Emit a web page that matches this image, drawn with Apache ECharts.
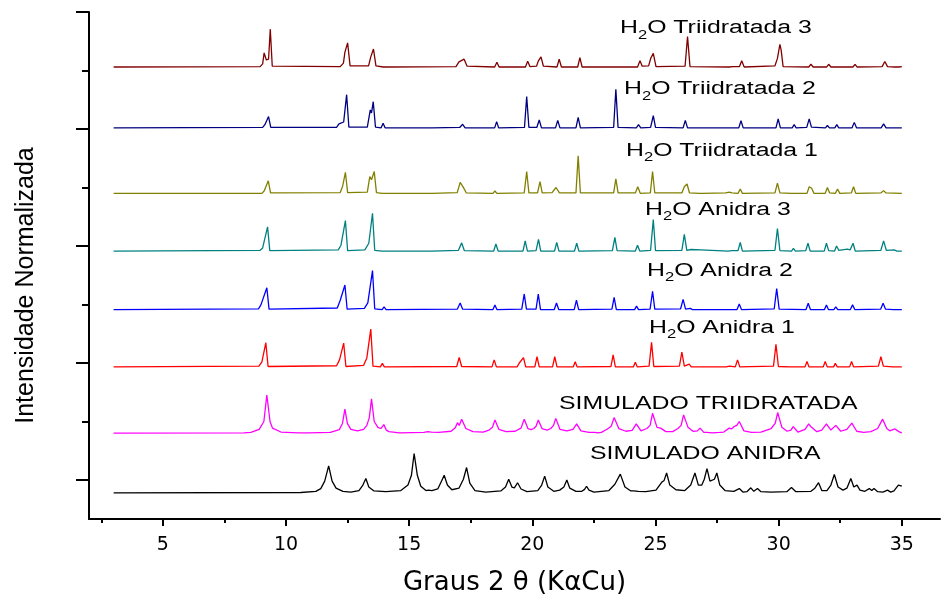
<!DOCTYPE html>
<html>
<head>
<meta charset="utf-8">
<title>DRX - anidra / triidratada</title>
<script src="https://cdn.jsdelivr.net/npm/echarts@6/dist/echarts.min.js"></script>
<style>
  html, body { margin: 0; padding: 0; background: #fff; }
  #chart { width: 941px; height: 599px; }
</style>
</head>
<body>
<div id="chart"></div>
<script>
// eixos
const xTicks = [5, 10, 15, 20, 25, 30, 35]
const xMinorTicks = [2.5, 7.5, 12.5, 17.5, 22.5, 27.5, 32.5]
const yTicks = [1, 4, 7, 10, 13]
const yMinorTicks = [2.5, 5.5, 8.5, 11.5]

// linha de base de cada difratograma (empilhados)
const baselines = [11.59, 10.03, 8.35, 6.87, 5.37, 3.90, 2.20, 0.67]

// [2θ, intensidade acima da linha de base]
const tri3 = [[3,0],[8.95,0.01],[9.05,0.08],[9.11,0.36],[9.2,0.18],[9.29,0.2],[9.36,0.97],[9.44,0.02],
  [12.2,0.01],[12.33,0.1],[12.39,0.38],[12.5,0.62],[12.6,0.03],
  [13.35,0.03],[13.44,0.26],[13.55,0.46],[13.65,0.03],[13.95,0],[14.01,0.05],[14.08,0],
  [16.9,0.01],[17.02,0.13],[17.1,0.14],[17.23,0.2],[17.35,0.02],
  [18.47,0],[18.56,0.12],[18.65,0],
  [19.72,0],[19.81,0.15],[19.9,0.01],[20.17,0.02],[20.24,0.15],[20.3,0.12],[20.35,0.26],[20.45,0.02],
  [21.0,0],[21.09,0.2],[21.18,0],[21.84,0],[21.93,0.24],[22.02,0],
  [23.35,0],[23.43,0.04],[23.52,0],
  [24.27,0],[24.37,0.16],[24.46,0.02],[24.72,0.03],[24.81,0.23],[24.91,0.35],[25.02,0.01],
  [26.2,0.02],[26.3,0.78],[26.4,0.01],
  [27.98,0],[28.06,0.03],[28.15,0.01],[28.41,0.01],[28.5,0.16],[28.6,0],
  [29.85,0.03],[29.95,0.22],[30.05,0.58],[30.1,0.44],[30.18,0.01],
  [31.22,0],[31.31,0.07],[31.4,0],[31.95,0],[32.03,0.07],[32.12,0],[32.35,0],[32.43,0.03],[32.5,0],
  [33.02,0],[33.1,0.07],[33.18,0],[34.2,0.01],[34.31,0.14],[34.42,0.01],[34.72,0],[34.8,0.03],[34.88,0],[35,0.01]]

const tri2 = [[3,0],[9.05,0.01],[9.14,0.08],[9.29,0.29],[9.38,0.01],
  [12.05,0.01],[12.15,0.1],[12.34,0.15],[12.46,0.85],[12.55,0.02],
  [13.3,0.02],[13.42,0.46],[13.47,0.38],[13.54,0.67],[13.63,0.02],[13.86,0],[13.94,0.12],[14.02,0],
  [15.77,0],[15.85,0.05],[15.93,0],
  [17.05,0.01],[17.17,0.09],[17.27,0],
  [18.47,0],[18.55,0.16],[18.63,0],
  [19.68,0.01],[19.77,0.8],[19.86,0.01],
  [20.18,0.01],[20.28,0.2],[20.37,0],
  [20.94,0],[21.03,0.19],[21.12,0],
  [21.77,0],[21.86,0.27],[21.95,0],
  [23.3,0.01],[23.39,0.99],[23.48,0.01],
  [24.22,0],[24.31,0.08],[24.4,0],[24.8,0.01],[24.91,0.31],[25.0,0.01],
  [26.12,0],[26.21,0.19],[26.3,0],[26.76,0],[26.84,0.02],[26.92,0],
  [28.38,0],[28.47,0.18],[28.56,0],
  [29.89,0],[29.98,0.23],[30.07,0],[30.55,0],[30.63,0.08],[30.71,0],
  [31.14,0.01],[31.24,0.23],[31.33,0.02],[31.9,0],[31.98,0.06],[32.06,0],[32.28,0],[32.36,0.08],[32.44,0],
  [32.98,0],[33.07,0.14],[33.16,0],[34.16,0],[34.26,0.1],[34.36,0],[34.7,0],[34.76,0.03],[34.84,0],[35,0]]

const tri1 = [[3,0],[9.02,0],[9.11,0.06],[9.28,0.32],[9.37,0.01],
  [12.2,0.02],[12.3,0.19],[12.41,0.54],[12.5,0.02],
  [13.3,0.03],[13.4,0.43],[13.47,0.35],[13.58,0.56],[13.67,0.02],[13.9,0],[13.98,0.04],[14.06,0],
  [15.8,0],[15.86,0.01],[15.92,0],
  [16.95,0.02],[17.07,0.28],[17.21,0.14],[17.32,0.01],
  [18.4,0],[18.48,0.06],[18.56,0],
  [19.67,0.01],[19.77,0.56],[19.86,0.01],
  [20.21,0.01],[20.31,0.3],[20.4,0.01],
  [20.8,0.02],[20.96,0.15],[21.1,0.01],
  [21.77,0.01],[21.86,0.96],[21.95,0.01],
  [23.3,0.01],[23.39,0.37],[23.48,0.01],
  [24.18,0.01],[24.28,0.17],[24.38,0],
  [24.79,0.01],[24.88,0.56],[24.97,0.01],
  [26.07,0.01],[26.17,0.17],[26.22,0.14],[26.28,0.24],[26.38,0.01],
  [26.78,0],[26.84,0.02],[26.9,0],
  [27.85,0.01],[27.93,0.06],[28.0,0.03],[28.1,0.01],[28.35,0],[28.44,0.11],[28.53,0],
  [29.85,0.01],[29.95,0.26],[30.05,0.01],
  [30.52,0],[30.6,0.05],[30.68,0],
  [31.15,0],[31.24,0.17],[31.29,0.12],[31.34,0.13],[31.43,0],
  [31.89,0],[31.98,0.15],[32.07,0.01],[32.3,0],[32.39,0.11],[32.48,0],
  [32.95,0.01],[33.04,0.17],[33.13,0],
  [34.15,0.01],[34.26,0.07],[34.36,0.01],[35,0]]

const anidra3 = [[3,0],[8.95,0.02],[9.05,0.08],[9.25,0.62],[9.34,0.01],
  [12.12,0.03],[12.23,0.15],[12.41,0.78],[12.5,0.01],
  [13.2,0.03],[13.36,0.2],[13.51,0.97],[13.6,0.02],[13.9,0],[13.98,0.04],[14.06,0],
  [15.8,0],[15.85,0.02],[15.9,0],
  [17.0,0.02],[17.13,0.21],[17.24,0.01],
  [18.43,0],[18.52,0.18],[18.61,0],
  [19.62,0],[19.71,0.26],[19.8,0],
  [20.15,0.01],[20.25,0.3],[20.34,0],
  [20.9,0],[20.99,0.22],[21.08,0],
  [21.71,0],[21.8,0.2],[21.89,0],
  [23.25,0.01],[23.35,0.35],[23.44,0.01],
  [24.18,0],[24.27,0.15],[24.36,0],
  [24.8,0.02],[24.91,0.81],[25.0,0.01],
  [26.07,0.02],[26.17,0.43],[26.27,0.02],[26.44,0.04],[26.52,0.01],[26.84,0.03],[26.9,0],
  [27.95,0],[28.03,0.04],[28.1,0.01],[28.35,0.01],[28.44,0.22],[28.53,0],
  [29.85,0.02],[29.95,0.58],[30.05,0.01],
  [30.52,0],[30.6,0.07],[30.68,0],
  [31.1,0.01],[31.19,0.2],[31.28,0],
  [31.85,0],[31.94,0.2],[32.03,0.01],[32.27,0],[32.35,0.13],[32.44,0.02],[32.79,0.05],[32.9,0.03],
  [33.02,0.2],[33.11,0],
  [34.15,0.02],[34.26,0.26],[34.37,0.02],[34.69,0.03],[34.8,0],[35,0]]

const anidra2 = [[3,0],[8.88,0.02],[8.98,0.12],[9.22,0.56],[9.31,0.01],
  [12.08,0.04],[12.2,0.24],[12.39,0.63],[12.48,0.01],
  [13.18,0.03],[13.32,0.17],[13.51,1.0],[13.6,0.02],[13.9,0],[13.98,0.07],[14.06,0],
  [16.95,0.01],[17.07,0.17],[17.17,0.01],
  [18.4,0],[18.48,0.12],[18.56,0],
  [19.57,0.01],[19.67,0.4],[19.76,0.01],
  [20.15,0.01],[20.24,0.4],[20.33,0],
  [20.89,0],[20.98,0.17],[21.07,0],
  [21.7,0],[21.79,0.24],[21.88,0],
  [23.23,0.01],[23.32,0.31],[23.41,0],
  [24.15,0],[24.23,0.09],[24.31,0],
  [24.78,0.01],[24.88,0.47],[24.97,0.01],
  [26.02,0.02],[26.12,0.26],[26.22,0.01],[26.41,0.03],[26.5,0],[26.73,0],[26.81,0.05],[26.89,0],
  [28.31,0],[28.4,0.14],[28.49,0],
  [29.82,0.02],[29.92,0.54],[30.02,0.01],
  [31.11,0],[31.2,0.16],[31.29,0],
  [31.86,0],[31.94,0.12],[32.02,0],[32.24,0],[32.32,0.07],[32.4,0],
  [32.91,0],[33.0,0.12],[33.09,0],
  [34.14,0.01],[34.24,0.16],[34.34,0.01],[34.66,0],[34.72,0.03],[34.8,0],[35,0]]

const anidra1 = [[3,0],[8.9,0.02],[9.02,0.13],[9.18,0.62],[9.27,0.01],
  [12.05,0.03],[12.17,0.18],[12.34,0.61],[12.43,0.01],
  [13.15,0.04],[13.28,0.23],[13.44,0.97],[13.53,0.02],[13.83,0],[13.91,0.09],[13.99,0],
  [16.93,0.01],[17.03,0.24],[17.13,0.01],
  [18.36,0],[18.45,0.18],[18.54,0],
  [19.38,0],[19.47,0.1],[19.55,0.08],[19.64,0.24],[19.73,0],
  [20.1,0],[20.19,0.26],[20.28,0],
  [20.82,0],[20.91,0.26],[21.0,0],
  [21.66,0],[21.74,0.13],[21.82,0],
  [23.19,0.01],[23.28,0.31],[23.37,0],
  [24.1,0],[24.18,0.12],[24.26,0],
  [24.74,0.02],[24.84,0.63],[24.93,0.01],
  [25.97,0.02],[26.07,0.38],[26.17,0.02],[26.37,0.07],[26.45,0],[26.72,0],[26.78,0.03],[26.85,0],
  [27.87,0],[27.93,0.05],[28.0,0.02],[28.24,0],[28.33,0.18],[28.42,0],
  [29.79,0.02],[29.89,0.58],[29.99,0.01],
  [30.47,0],[30.54,0.05],[30.61,0],
  [31.07,0],[31.15,0.14],[31.23,0],
  [31.81,0],[31.89,0.14],[31.97,0],[32.23,0],[32.3,0.09],[32.38,0],
  [32.88,0],[32.96,0.14],[33.04,0],
  [34.05,0.02],[34.15,0.26],[34.25,0.02],[34.62,0],[34.69,0.03],[34.76,0],[35,0]]

const simTri = [[3,0],[8.3,0.01],[8.57,0.02],[8.91,0.1],[9.1,0.3],[9.22,0.98],[9.35,0.3],[9.45,0.13],[9.79,0.03],[10.5,0.01],
  [10.78,0.01],[10.85,0.04],[10.92,0.01],
  [11.8,0.02],[12.16,0.09],[12.29,0.25],[12.39,0.62],[12.49,0.25],[12.63,0.1],[12.9,0.06],
  [13.15,0.1],[13.28,0.2],[13.38,0.4],[13.47,0.88],[13.58,0.3],[13.73,0.15],[13.85,0.12],[13.97,0.22],[14.07,0.08],[14.18,0.04],[14.6,0.01],
  [15.6,0.02],[15.75,0.04],[15.81,0.07],[15.9,0.03],[16.2,0.02],
  [16.7,0.05],[16.87,0.14],[16.96,0.27],[17.03,0.2],[17.13,0.36],[17.3,0.12],[17.59,0.04],
  [18.0,0.03],[18.24,0.08],[18.38,0.15],[18.48,0.34],[18.64,0.1],[18.93,0.04],
  [19.3,0.05],[19.54,0.13],[19.59,0.15],[19.67,0.36],[19.82,0.12],[19.95,0.09],
  [20.06,0.12],[20.15,0.18],[20.24,0.34],[20.39,0.12],[20.6,0.08],
  [20.75,0.12],[20.86,0.2],[20.95,0.38],[21.12,0.1],[21.4,0.06],
  [21.65,0.1],[21.8,0.24],[21.97,0.06],[22.3,0.02],[22.52,0.02],[22.58,0.04],[22.66,0.01],[22.8,0.02],
  [23.03,0.1],[23.2,0.18],[23.32,0.4],[23.51,0.12],[23.8,0.05],[24.05,0.07],
  [24.22,0.24],[24.41,0.06],[24.65,0.12],[24.78,0.2],[24.88,0.51],[25.06,0.15],[25.21,0.13],[25.42,0.04],
  [25.7,0.04],[25.91,0.12],[26.04,0.2],[26.14,0.47],[26.32,0.15],[26.52,0.05],[26.7,0.06],[26.81,0.13],[26.96,0.02],[27.08,0.02],[27.13,0.04],[27.32,0.01],
  [27.6,0.02],[27.77,0.03],[27.99,0.13],[28.1,0.11],[28.19,0.17],[28.3,0.2],[28.4,0.3],[28.59,0.06],[28.9,0.02],
  [29.28,0.03],[29.69,0.12],[29.86,0.25],[29.96,0.53],[30.13,0.15],[30.34,0.05],[30.5,0.08],[30.59,0.17],[30.78,0.03],
  [31.07,0.1],[31.22,0.24],[31.29,0.18],[31.37,0.21],[31.55,0.04],
  [31.75,0.08],[31.94,0.24],[32.12,0.08],[32.32,0.2],[32.52,0.05],[32.77,0.1],[32.97,0.26],[33.17,0.05],[33.45,0.02],
  [33.74,0.04],[34.02,0.12],[34.22,0.36],[34.39,0.12],[34.51,0.06],[34.72,0.11],[34.88,0.04],[35,0.01]]

const simAnidra = [[3,0],[10.6,0.01],[11.21,0.04],[11.41,0.11],[11.57,0.3],[11.73,0.69],[11.87,0.3],[12.03,0.12],[12.31,0.04],[12.63,0.02],
  [12.96,0.06],[13.12,0.2],[13.24,0.37],[13.36,0.15],[13.57,0.05],[14.05,0.03],
  [14.66,0.06],[14.95,0.2],[15.09,0.45],[15.2,1.01],[15.33,0.45],[15.47,0.17],[15.68,0.06],[15.78,0.07],[15.85,0.11],[15.92,0.06],
  [16.16,0.1],[16.31,0.3],[16.42,0.45],[16.55,0.2],[16.73,0.08],
  [17.02,0.12],[17.2,0.35],[17.33,0.65],[17.46,0.25],[17.67,0.06],[18.11,0.02],
  [18.72,0.05],[18.91,0.15],[19.04,0.35],[19.17,0.15],[19.27,0.13],[19.4,0.26],[19.54,0.1],[19.78,0.03],
  [20.22,0.06],[20.38,0.2],[20.5,0.43],[20.63,0.15],[20.87,0.04],
  [21.11,0.07],[21.28,0.15],[21.4,0.33],[21.52,0.12],[21.77,0.04],
  [22.01,0.04],[22.12,0.09],[22.2,0.17],[22.3,0.07],[22.5,0.02],
  [23.11,0.06],[23.35,0.22],[23.57,0.48],[23.76,0.15],[24.0,0.05],[24.12,0.05],[24.2,0.07],[24.3,0.04],[24.6,0.03],
  [25.02,0.07],[25.25,0.27],[25.35,0.32],[25.45,0.51],[25.58,0.2],[25.83,0.08],
  [26.19,0.06],[26.43,0.2],[26.6,0.51],[26.74,0.2],[26.88,0.2],[26.98,0.35],[27.09,0.62],[27.21,0.3],[27.29,0.33],[27.39,0.35],[27.49,0.51],[27.61,0.2],[27.82,0.06],
  [28.18,0.04],[28.4,0.11],[28.55,0.02],[28.71,0.03],[28.87,0.13],[28.99,0.04],[29.14,0.11],[29.28,0.03],[29.69,0.02],
  [30.33,0.03],[30.52,0.14],[30.7,0.03],
  [31.31,0.04],[31.47,0.12],[31.62,0.26],[31.75,0.06],
  [31.96,0.06],[32.12,0.2],[32.26,0.47],[32.41,0.15],[32.61,0.07],
  [32.77,0.12],[32.93,0.37],[33.05,0.15],[33.18,0.2],[33.3,0.07],
  [33.5,0.04],[33.68,0.11],[33.78,0.06],[33.87,0.11],[34.02,0.03],
  [34.23,0.02],[34.42,0.07],[34.55,0.02],[34.68,0.05],[34.86,0.2],[34.93,0.15],[35,0.17]]

const patterns = [tri3, tri2, tri1, anidra3, anidra2, anidra1, simTri, simAnidra]
const names = ['H2O Triidratada 3', 'H2O Triidratada 2', 'H2O Triidratada 1',
  'H2O Anidra 3', 'H2O Anidra 2', 'H2O Anidra 1', 'SIMULADO TRIIDRATADA', 'SIMULADO ANIDRA']
const colors = ['#800000', '#000080', '#808000', '#008080', '#0000ff', '#ff0000', '#ff00ff', '#000000']

// rótulos das curvas (H2O com subscrito)
const labelTexts = names.map(n => n.startsWith('H2O') ? '{m|H}{s|2}{m|O' + n.slice(3) + '}' : '{m|' + n + '}')
const labelPos = [[620, 28.5], [624, 89.5], [626, 151], [645, 210], [647, 271], [649, 328], [559, 404], [590, 454]]

const chart = echarts.init(document.getElementById('chart'))

const axisFont = { fontFamily: 'DejaVu Sans', color: '#000' }
const noSplit = { show: false }

const option = {
  animation: false,
  backgroundColor: '#fff',
  grid: { left: 89, top: 12, right: 1, bottom: 80, outerBoundsMode: 'none' },
  xAxis: [
    {
      type: 'value', min: 2, max: 36.55, position: 'bottom',
      name: 'Graus 2 θ (KαCu)', nameLocation: 'middle', nameGap: 51,
      nameTextStyle: { ...axisFont, fontSize: 26 },
      axisLine: { onZero: false, lineStyle: { color: '#000', width: 2 } },
      axisTick: { length: 7, customValues: xTicks, lineStyle: { color: '#000', width: 2 } },
      axisLabel: { customValues: xTicks, margin: 17, fontSize: 19, ...axisFont },
      splitLine: noSplit
    },
    {
      type: 'value', min: 2, max: 36.55, position: 'bottom',
      axisLine: { show: false },
      axisTick: { length: 4, customValues: xMinorTicks, lineStyle: { color: '#000', width: 2 } },
      axisLabel: { show: false },
      splitLine: noSplit
    }
  ],
  yAxis: [
    {
      type: 'value', min: 0, max: 13, position: 'left',
      name: 'Intensidade Normalizada', nameLocation: 'middle', nameGap: 50,
      nameTextStyle: { fontFamily: 'Liberation Sans', fontSize: 25, color: '#000', padding: [0, 40, 0, 0] },
      axisLine: { show: true, onZero: false, lineStyle: { color: '#000', width: 2 } },
      axisTick: { length: 13, customValues: yTicks, lineStyle: { color: '#000', width: 2 } },
      axisLabel: { show: false },
      splitLine: noSplit
    },
    {
      type: 'value', min: 0, max: 13, position: 'left',
      axisLine: { show: false },
      axisTick: { length: 7, customValues: yMinorTicks, lineStyle: { color: '#000', width: 2 } },
      axisLabel: { show: false },
      splitLine: noSplit
    }
  ],
  series: patterns.map((p, i) => ({
    name: names[i],
    type: 'line',
    xAxisIndex: 0,
    yAxisIndex: 0,
    symbol: 'none',
    lineStyle: { color: colors[i], width: 1.3 },
    data: p.map(([x, h]) => [x, baselines[i] + h])
  })),
  graphic: labelTexts.map((t, i) => ({
    type: 'text',
    x: labelPos[i][0],
    y: labelPos[i][1],
    scaleX: 1.38,
    silent: true,
    style: {
      text: t,
      align: 'left',
      verticalAlign: 'middle',
      fill: '#000',
      rich: {
        m: { fontFamily: 'Liberation Sans', fontSize: 18, lineHeight: 26, fill: '#000' },
        s: { fontFamily: 'Liberation Sans', fontSize: 12, lineHeight: 10, verticalAlign: 'bottom', fill: '#000' }
      }
    }
  }))
}

chart.setOption(option)
</script>
</body>
</html>
